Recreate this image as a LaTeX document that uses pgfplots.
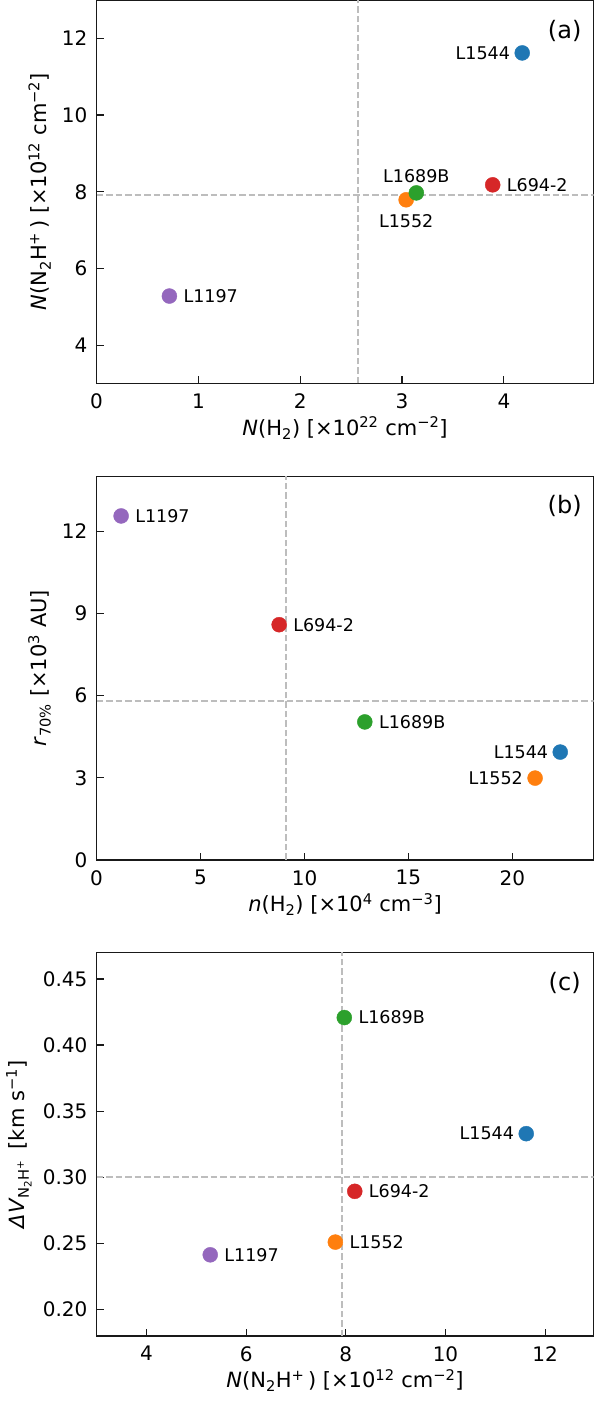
\documentclass[border=0pt]{standalone}
\usepackage{fontspec}
\setmainfont{DejaVu Sans}
\usepackage{pgfplots}
\pgfplotsset{compat=1.18}
\definecolor{tabblue}{HTML}{1F77B4}
\definecolor{taborange}{HTML}{FF7F0E}
\definecolor{tabgreen}{HTML}{2CA02C}
\definecolor{tabred}{HTML}{D62728}
\definecolor{tabpurple}{HTML}{9467BD}
\definecolor{refgray}{HTML}{BDBDBD}
\tikzset{
  lab/.style={font=\fontsize{17.5}{20}\selectfont, inner sep=0pt, text=black},
  rlab/.style={lab, anchor=west, xshift=14pt},
  llab/.style={lab, anchor=east, xshift=-12pt},
}
\pgfplotsset{
  panel/.style={
    scale only axis, width=496.9pt, height=383.5pt,
    axis line style={line width=1.4pt, black!90},
    tick align=inside, tick pos=left,
    major tick length=7pt,
    every tick/.style={line width=1.2pt, black!90},
    tick label style={font=\fontsize{20}{24}\selectfont, inner sep=0pt},
    xticklabel shift=10pt, yticklabel shift=9pt,
    label style={font=\fontsize{21}{25}\selectfont, inner sep=0pt},
    xlabel shift=8pt, ylabel shift=11pt,
    /pgf/number format/assume math mode=true,
  },
  refline/.style={refgray, line width=2pt, dash pattern=on 6.5pt off 3pt},
  pt/.style={only marks, mark=*, mark size=7.5pt, color=#1, mark options={fill=#1, draw=#1}},
}
\begin{document}
\begin{tikzpicture}[x=1pt,y=1pt]
\useasboundingbox (0,0) rectangle (594,1403);
% ---------------- (a)
\begin{axis}[panel, at={(96.6pt,1019.5pt)}, anchor=south west,
  xmin=0, xmax=4.88, ymin=3, ymax=13,
  xtick={0,1,2,3,4}, ytick={4,6,8,10,12},
  xlabel={\textit{N}(H\textsubscript{2}) [×10\textsuperscript{22} cm\textsuperscript{−2}]},
  ylabel={\textit{N}(N\textsubscript{2}H\textsuperscript{+}\,) [×10\textsuperscript{12} cm\textsuperscript{−2}]},
]
\addplot[refline] coordinates {(2.57,3) (2.57,13)};
\addplot[refline] coordinates {(0,7.92) (4.88,7.92)};
\addplot[pt=tabblue] coordinates {(4.18,11.62)} node[llab] {L1544};
\addplot[pt=taborange] coordinates {(3.04,7.79)} node[lab, anchor=north, yshift=-14.5pt] {L1552};
\addplot[pt=tabgreen] coordinates {(3.14,7.97)} node[lab, anchor=south, yshift=10pt] {L1689B};
\addplot[pt=tabred] coordinates {(3.89,8.18)} node[rlab] {L694-2};
\addplot[pt=tabpurple] coordinates {(0.715,5.28)} node[rlab] {L1197};
\node[font=\fontsize{24}{28}\selectfont] at (rel axis cs:0.942,0.919) {(a)};
\end{axis}
% ---------------- (b)
\begin{axis}[panel, at={(96.6pt,543pt)}, anchor=south west,
  xmin=0, xmax=23.9, ymin=0, ymax=14,
  xtick={0,5,10,15,20}, ytick={0,3,6,9,12},
  xlabel={\textit{n}(H\textsubscript{2}) [×10\textsuperscript{4} cm\textsuperscript{−3}]},
  ylabel={\textit{r}\textsubscript{70\%} [×10\textsuperscript{3} AU]},
]
\addplot[refline] coordinates {(9.13,0) (9.13,14)};
\addplot[refline] coordinates {(0,5.79) (23.9,5.79)};
\addplot[pt=tabblue] coordinates {(22.3,3.94)} node[llab] {L1544};
\addplot[pt=taborange] coordinates {(21.09,2.99)} node[llab] {L1552};
\addplot[pt=tabgreen] coordinates {(12.9,5.04)} node[rlab] {L1689B};
\addplot[pt=tabred] coordinates {(8.78,8.59)} node[rlab] {L694-2};
\addplot[pt=tabpurple] coordinates {(1.18,12.56)} node[rlab] {L1197};
\node[font=\fontsize{24}{28}\selectfont] at (rel axis cs:0.942,0.922) {(b)};
\end{axis}
% ---------------- (c)
\begin{axis}[panel, at={(96.6pt,67pt)}, anchor=south west,
  xmin=3, xmax=12.97, ymin=0.18, ymax=0.47,
  xtick={4,6,8,10,12}, ytick={0.20,0.25,0.30,0.35,0.40,0.45},
  yticklabel style={/pgf/number format/.cd, fixed, fixed zerofill, precision=2},
  xlabel={\textit{N}(N\textsubscript{2}H\textsuperscript{+}\,) [×10\textsuperscript{12} cm\textsuperscript{−2}]},
  ylabel={\textit{ΔV}\textsubscript{N\textsubscript{2}H\textsuperscript{+}}\, [km s\textsuperscript{−1}]},
]
\addplot[refline] coordinates {(7.92,0.18) (7.92,0.47)};
\addplot[refline] coordinates {(3,0.3005) (12.97,0.3005)};
\addplot[pt=tabblue] coordinates {(11.62,0.333)} node[llab] {L1544};
\addplot[pt=taborange] coordinates {(7.79,0.251)} node[rlab] {L1552};
\addplot[pt=tabgreen] coordinates {(7.97,0.4208)} node[rlab] {L1689B};
\addplot[pt=tabred] coordinates {(8.18,0.2894)} node[rlab] {L694-2};
\addplot[pt=tabpurple] coordinates {(5.28,0.2414)} node[rlab] {L1197};
\node[font=\fontsize{24}{28}\selectfont] at (rel axis cs:0.942,0.92) {(c)};
\end{axis}
\end{tikzpicture}
\end{document}
